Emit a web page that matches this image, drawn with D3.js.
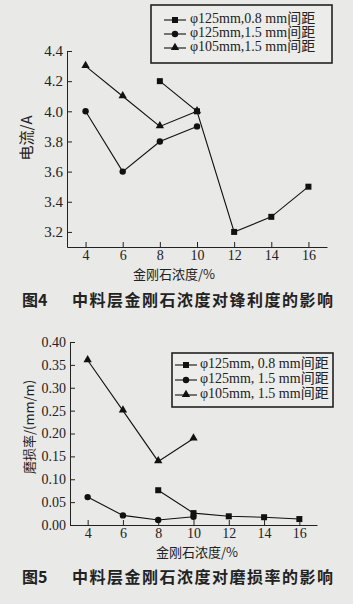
<!DOCTYPE html>
<html lang="zh">
<head>
<meta charset="UTF-8">
<title>中料层金刚石浓度的影响</title>
<style>
  body { margin: 0; background: #e9e9e7; }
  svg { display: block; }
  .tick text { font-family: "Liberation Serif", "DejaVu Serif", serif; fill: #222; }
</style>
</head>
<body>
<script src="https://d3js.org/d3.v7.min.js"></script>
<script>
// diamond concentration (%)
const xTicks = [4, 6, 8, 10, 12, 14, 16];
const seriesNames = ["φ125mm,0.8 mm间距", "φ125mm,1.5 mm间距", "φ105mm,1.5 mm间距"];
const seriesNames2 = ["φ125mm, 0.8 mm间距", "φ125mm, 1.5 mm间距", "φ105mm, 1.5 mm间距"];
const symbols = ["square", "circle", "triangle"];

// fig 4: current (A)
const cur125_08 = [[8, 4.2], [10, 4.0], [12, 3.2], [14, 3.3], [16, 3.5]];
const cur125_15 = [[4, 4.0], [6, 3.6], [8, 3.8], [10, 3.9]];
const cur105_15 = [[4, 4.3], [6, 4.1], [8, 3.9], [10, 4.0]];
const curTicks = [3.2, 3.4, 3.6, 3.8, 4.0, 4.2, 4.4];

// fig 5: wear rate (mm/m)
const wear125_08 = [[8, 0.076], [10, 0.026], [12, 0.019], [14, 0.017], [16, 0.013]];
const wear125_15 = [[4, 0.061], [6, 0.021], [8, 0.011], [10, 0.018]];
const wear105_15 = [[4, 0.36], [6, 0.25], [8, 0.139], [10, 0.189]];
const wearTicks = [0, 0.05, 0.10, 0.15, 0.20, 0.25, 0.30, 0.35, 0.40];

const svg = d3.select("body").append("svg")
    .attr("width", 353)
    .attr("height", 604);

const cjk = '"Noto Sans CJK SC", "Noto Sans", sans-serif';

function marker(g, type, cx, cy) {
    if (type === "square") {
        g.append("rect").attr("x", cx - 3).attr("y", cy - 3).attr("width", 6).attr("height", 6).attr("fill", "#111");
    } else if (type === "circle") {
        g.append("circle").attr("cx", cx).attr("cy", cy).attr("r", 3.2).attr("fill", "#111");
    } else {
        g.append("path").attr("d", d3.symbol(d3.symbolTriangle, 30)()).attr("transform", "translate(" + cx + "," + (cy - 0.5) + ")").attr("fill", "#111");
    }
}

function drawChart(opt) {
    const g = svg.append("g");
    const x = d3.scaleLinear().domain([3, 17]).range(opt.xRange);
    const y = d3.scaleLinear().domain(opt.yDomain).range(opt.yRange);

    // axes, ticks pointing inward
    g.append("g")
        .attr("transform", "translate(0," + opt.yRange[0] + ")")
        .call(d3.axisBottom(x).tickValues(xTicks).tickSize(-5).tickSizeOuter(0).tickPadding(3))
        .call(a => a.selectAll("text").attr("font-size", 14))
        .call(a => a.selectAll("line,path").attr("stroke", "#222"));
    g.append("g")
        .attr("transform", "translate(" + opt.xRange[0] + ",0)")
        .call(d3.axisLeft(y).tickValues(opt.yTicks).tickFormat(opt.fmt).tickSize(-5).tickSizeOuter(0).tickPadding(4))
        .call(a => a.selectAll("text").attr("font-size", opt.yTickSize))
        .call(a => a.selectAll("line,path").attr("stroke", "#222"));

    const line = d3.line().x(d => x(d[0])).y(d => y(d[1]));
    opt.series.forEach((s, i) => {
        g.append("path").datum(s)
            .attr("fill", "none")
            .attr("stroke", "#111")
            .attr("stroke-width", 1.1)
            .attr("d", line);
        s.forEach(d => marker(g, symbols[i], x(d[0]), y(d[1])));
    });

    // axis titles
    g.append("text")
        .attr("transform", "translate(" + opt.yLabelPos[0] + "," + opt.yLabelPos[1] + ") rotate(-90)")
        .attr("text-anchor", "middle")
        .attr("dominant-baseline", "middle")
        .attr("font-family", cjk)
        .attr("font-size", opt.yLabelSize)
        .attr("fill", "#222")
        .text(opt.yLabel);
    g.append("text")
        .attr("x", opt.xLabelPos[0]).attr("y", opt.xLabelPos[1])
        .attr("text-anchor", "middle")
        .attr("dominant-baseline", "middle")
        .attr("font-family", cjk)
        .attr("font-size", 13)
        .attr("fill", "#222")
        .text("金刚石浓度/%");

    // legend
    const lg = opt.legend;
    g.append("rect")
        .attr("x", lg.x).attr("y", lg.y).attr("width", lg.w).attr("height", lg.h)
        .attr("fill", "#ececea")
        .attr("stroke", "#222")
        .attr("stroke-width", 1.6);
    opt.names.forEach((name, i) => {
        const yy = lg.y + lg.first + i * lg.step;
        g.append("line")
            .attr("x1", lg.lx[0]).attr("x2", lg.lx[1])
            .attr("y1", yy).attr("y2", yy)
            .attr("stroke", "#111").attr("stroke-width", 1.1);
        marker(g, symbols[i], (lg.lx[0] + lg.lx[1]) / 2, yy);
        g.append("text")
            .attr("x", lg.tx).attr("y", yy)
            .attr("dominant-baseline", "middle")
            .attr("font-family", '"Liberation Serif", "Noto Sans CJK SC", serif')
            .attr("font-size", lg.size)
            .attr("fill", "#222")
            .text(name);
    });

    // caption
    const cap = g.append("text")
        .attr("y", opt.capY)
        .attr("dominant-baseline", "middle")
        .attr("font-family", cjk)
        .attr("font-weight", "bold")
        .attr("font-size", 16)
        .attr("fill", "#222");
    cap.append("tspan").attr("x", 22).text(opt.capNo);
    cap.append("tspan").attr("x", 72).attr("letter-spacing", 1.5).text(opt.caption);
}

drawChart({
    xRange: [67, 327],
    yDomain: [3.1, 4.4],
    yRange: [247, 51],
    yTicks: curTicks,
    yTickSize: 15,
    fmt: d3.format(".1f"),
    series: [cur125_08, cur125_15, cur105_15],
    yLabel: "电流/A",
    yLabelPos: [28, 138],
    yLabelSize: 15,
    xLabelPos: [174, 275],
    names: seriesNames,
    legend: {x: 151, y: 5, w: 181, h: 58, first: 15, step: 14, lx: [164, 186], tx: 190, size: 14},
    capY: 302,
    capNo: "图4",
    caption: "中料层金刚石浓度对锋利度的影响"
});

drawChart({
    xRange: [70, 317],
    yDomain: [0, 0.4],
    yRange: [525, 342],
    yTicks: wearTicks,
    yTickSize: 14,
    fmt: d3.format(".2f"),
    series: [wear125_08, wear125_15, wear105_15],
    yLabel: "磨损率/(mm/m)",
    yLabelPos: [30, 427],
    yLabelSize: 13,
    xLabelPos: [197, 553],
    names: seriesNames2,
    legend: {x: 172, y: 353, w: 161, h: 54, first: 12, step: 15, lx: [175, 197], tx: 200, size: 14},
    capY: 579,
    capNo: "图5",
    caption: "中料层金刚石浓度对磨损率的影响"
});
</script>
</body>
</html>
